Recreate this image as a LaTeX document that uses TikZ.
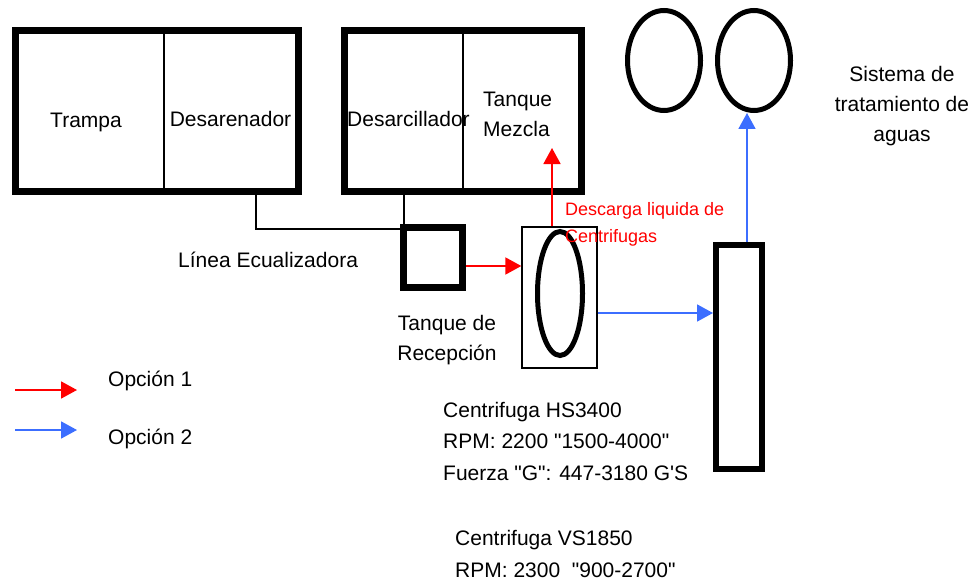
\documentclass[tikz,border=0pt]{standalone}
\usepackage{fontspec}
\setmainfont{Liberation Sans}[Ligatures=TeXOff]
\usetikzlibrary{arrows.meta,calc,shapes.geometric}
\definecolor{optred}{RGB}{255,0,0}
\definecolor{optblue}{RGB}{60,110,255}
\begin{document}
\begin{tikzpicture}[x=1pt,y=-1pt,
  lbl/.style={font=\fontsize{21}{#1}\selectfont, inner sep=0pt},
  lbl/.default=30,
  redlbl/.style={font=\fontsize{18}{27}\selectfont, inner sep=0pt, text=optred},
  heavybox/.style={draw, line width=7pt, inner sep=0pt},
  thinline/.style={draw, line width=1.4pt},
  opt1/.style={draw=optred, line width=1.8pt, -{Triangle[length=16pt,width=17pt]}},
  opt2/.style={draw=optblue, line width=1.8pt, -{Triangle[length=16pt,width=17pt]}},
  vessel/.style={draw, ellipse, line width=5pt, inner sep=0pt}]
\useasboundingbox (0,0) rectangle (977,583);
% main units
\node[heavybox, minimum width=283pt, minimum height=160pt] (b1) at (157,111) {};
\node[heavybox, minimum width=237.5pt, minimum height=160pt] (b2) at (462.75,111) {};
\draw[thinline] ($(b1.north west)+(152,0)$) -- ($(b1.south west)+(152,0)$);
\draw[thinline] ($(b2.north west)+(122.5,0)$) -- ($(b2.south west)+(122.5,0)$);
\node[heavybox, minimum width=59pt, minimum height=60pt] (rec) at (433,257.5) {};
\node[draw, line width=1.3pt, inner sep=0pt, minimum width=75pt, minimum height=141pt] (cbox) at (559.5,297.5) {};
\node[vessel, minimum width=45pt, minimum height=124pt] (cent) at (560,293.5) {};
\node[draw, line width=6pt, inner sep=0pt, minimum width=46pt, minimum height=224pt] (tall) at (739,357) {};
\node[vessel, minimum width=73pt, minimum height=100pt] (c1) at (664,60.5) {};
\node[vessel, minimum width=73pt, minimum height=100pt] (c2) at (754,60.5) {};
% equalizer line
\draw[thinline] ($(b1.south)+(99,-3.5)$) |- ($(rec.north west)+(0,5)$);
\draw[thinline] ($(b2.south west)+(63.5,-3.5)$) -- ($(rec.north west)+(4,0)$);
% option 1 (red)
\coordinate (r1) at ($(rec.east)+(0,8.5)$);
\draw[opt1] (r1) -- (r1 -| cbox.west);
\coordinate (mz) at (552,148);
\draw[opt1] (cbox.north -| mz) -- (mz);
% option 2 (blue)
\coordinate (bl) at ($(cbox.east)+(0,15.5)$);
\draw[opt2] (bl) -- (bl -| tall.west);
\coordinate (bu) at ($(tall.north)+(8,0)$);
\draw[opt2] (bu) -- (bu |- c2.south);
% legend
\coordinate (l1s) at (15,390);
\coordinate (l1e) at (77,390);
\coordinate (l2s) at (15,430);
\coordinate (l2e) at (77,430);
\draw[opt1] (l1s) -- (l1e);
\draw[opt2] (l2s) -- (l2e);
% texts (base anchor of a multi-line node = last line's baseline)
\node[lbl, anchor=base] (t1) at (86,128) {Trampa};
\node[lbl, anchor=base] (t2) at (230.5,127) {Desarenador};
\node[lbl, anchor=base west] (t3) at (347,127) {Desarcillador};
\node[lbl, anchor=base west, align=left] (t4) at (483,137) {Tanque\\Mezcla};
\node[lbl, anchor=base west] (t5) at (178,267) {Línea Ecualizadora};
\node[lbl, anchor=base, align=center] (t6) at (447,360) {Tanque de\\Recepción};
\node[lbl, anchor=base west] (t7) at (108,386) {Opción 1};
\node[lbl, anchor=base west] (t8) at (108,444) {Opción 2};
\node[lbl=31.5, anchor=base west, align=left] (t9) at (443,480) {Centrifuga HS3400\\RPM: 2200 "1500-4000"\\Fuerza "G": 447-3180 G'S};
\node[lbl=32, anchor=base west, align=left] (t10) at (455,577) {Centrifuga VS1850\\RPM: 2300 \ "900-2700"};
\node[lbl, anchor=base, align=center] (t11) at (902,142) {Sistema de\\tratamiento de\\aguas};
\node[redlbl, anchor=base west, align=left] (t12) at (565,242) {Descarga liquida de\\Centrifugas};
\end{tikzpicture}
\end{document}
